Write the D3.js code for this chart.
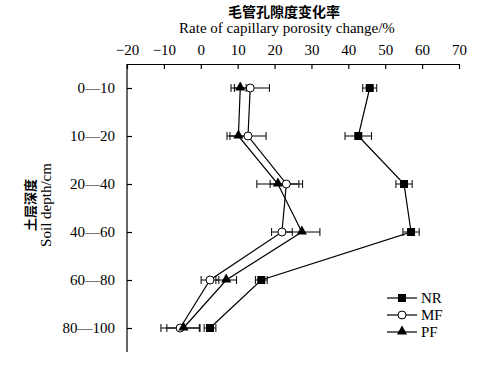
<!DOCTYPE html>
<html>
<head>
<meta charset="utf-8">
<script src="https://cdn.jsdelivr.net/npm/d3@7"></script>
<style>
  body { margin: 0; background: #fff; }
  svg { display: block; }
  text { font-family: "Liberation Serif", "Times New Roman", "DejaVu Serif", serif; fill: #000; }
  .cn { font-family: "Noto Sans CJK SC", sans-serif; }
</style>
</head>
<body>
<svg width="486" height="368"></svg>
<script>
// depth layers (cm)
var depths = ["0\u201410", "10\u201420", "20\u201440", "40\u201460", "60\u201480", "80\u2014100"];
var xTicks = [-20, -10, 0, 10, 20, 30, 40, 50, 60, 70];

// rate of capillary porosity change (%) and error
var nrValues = [45.8, 42.7, 55.1, 57.0, 16.4, 2.5];
var nrErrors = [1.9, 3.6, 2.2, 2.2, 1.6, 1.6];
var mfValues = [13.4, 12.8, 23.2, 22.0, 2.5, -5.6];
var mfErrors = [5.2, 4.9, 4.4, 2.8, 2.4, 5.2];
var pfValues = [10.7, 10.2, 20.9, 27.4, 6.9, -4.7];
var pfErrors = [1.6, 3.1, 5.7, 4.9, 2.8, 4.5];

var seriesNames = ["NR", "MF", "PF"];

function main() {
    var svg = d3.select("svg");
    var left = 127, right = 459, top = 64, bottom = 352;
    var serif = "'Liberation Serif', 'Times New Roman', serif";

    var x = d3.scaleLinear().domain([-20, 70]).range([left, right]);
    var y = d3.scalePoint().domain(depths).range([top, bottom]).padding(0.5);

    // titles
    svg.append("text").attr("class", "cn")
        .attr("x", (left + right) / 2 - 9).attr("y", 17)
        .attr("text-anchor", "middle").attr("font-size", "14px")
        .attr("font-weight", "bold")
        .text("毛管孔隙度变化率");
    svg.append("text")
        .attr("x", (left + right) / 2 - 6).attr("y", 33)
        .attr("text-anchor", "middle").attr("font-size", "15px")
        .style("font-family", serif)
        .text("Rate of capillary porosity change/%");

    var yc = 205;
    svg.append("text").attr("class", "cn")
        .attr("transform", "translate(35," + yc + ") rotate(-90)")
        .attr("text-anchor", "middle").attr("font-size", "13px")
        .attr("font-weight", "bold")
        .text("土层深度");
    svg.append("text")
        .attr("transform", "translate(51," + yc + ") rotate(-90)")
        .attr("text-anchor", "middle").attr("font-size", "15px")
        .style("font-family", serif)
        .text("Soil depth/cm");

    // top axis
    var gx = svg.append("g").attr("transform", "translate(0," + top + ")")
        .call(d3.axisTop(x).tickValues(xTicks).tickSizeInner(-5).tickSizeOuter(0)
            .tickFormat(function (d) { return d < 0 ? "\u2212" + Math.abs(d) : d; }));
    gx.attr("font-family", null);
    gx.select(".domain").attr("stroke-width", 1.2);
    gx.selectAll("line").attr("stroke-width", 1.2);
    gx.selectAll("text").attr("y", -9).attr("font-size", "15px")
        .style("font-family", serif);

    // left axis
    var gy = svg.append("g").attr("transform", "translate(" + left + ",0)")
        .call(d3.axisLeft(y).tickSizeInner(-5).tickSizeOuter(0));
    gy.attr("font-family", null);
    gy.select(".domain").attr("stroke-width", 1.2)
        .attr("d", "M0," + top + "V" + bottom);
    gy.selectAll("line").attr("stroke-width", 1.2);
    gy.selectAll("text").attr("x", -12).attr("font-size", "15px")
        .style("font-family", serif);

    var series = [
        { name: "NR", values: nrValues, errors: nrErrors },
        { name: "MF", values: mfValues, errors: mfErrors },
        { name: "PF", values: pfValues, errors: pfErrors }
    ];

    var line = d3.line()
        .x(function (d) { return x(d.v); })
        .y(function (d) { return y(d.depth); });

    function rows(s) {
        return depths.map(function (dep, i) {
            return { depth: dep, v: s.values[i], e: s.errors[i] };
        });
    }

    // lines
    series.forEach(function (s) {
        svg.append("path").datum(rows(s))
            .attr("fill", "none").attr("stroke", "#000").attr("stroke-width", 1.2)
            .attr("d", line);
    });

    // error bars
    series.forEach(function (s) {
        var g = svg.append("g").attr("stroke", "#000").attr("stroke-width", 1);
        var r = rows(s);
        g.selectAll(".eb").data(r).enter().append("line")
            .attr("x1", function (d) { return x(d.v - d.e); })
            .attr("x2", function (d) { return x(d.v + d.e); })
            .attr("y1", function (d) { return y(d.depth); })
            .attr("y2", function (d) { return y(d.depth); });
        [-1, 1].forEach(function (sgn) {
            g.selectAll(".cap" + sgn).data(r).enter().append("line")
                .attr("x1", function (d) { return x(d.v + sgn * d.e); })
                .attr("x2", function (d) { return x(d.v + sgn * d.e); })
                .attr("y1", function (d) { return y(d.depth) - 4; })
                .attr("y2", function (d) { return y(d.depth) + 4; });
        });
    });

    function marker(sel, name) {
        if (name === "NR") {
            sel.append("rect").attr("x", -4).attr("y", -4).attr("width", 8).attr("height", 8)
                .attr("fill", "#000");
        } else if (name === "MF") {
            sel.append("circle").attr("r", 4).attr("fill", "#fff")
                .attr("stroke", "#000").attr("stroke-width", 1);
        } else {
            sel.append("path").attr("d", d3.symbol().type(d3.symbolTriangle).size(45))
                .attr("transform", "translate(0,-0.5)")
                .attr("fill", "#000");
        }
    }

    // markers (NR, then MF, PF on top)
    series.forEach(function (s) {
        svg.selectAll(".m" + s.name).data(rows(s)).enter().append("g")
            .attr("transform", function (d) { return "translate(" + x(d.v) + "," + y(d.depth) + ")"; })
            .each(function () { marker(d3.select(this), s.name); });
    });

    // legend
    var legY = d3.scalePoint().domain(seriesNames).range([298, 332]);
    var leg = svg.append("g");
    seriesNames.forEach(function (n) {
        var yy = legY(n);
        leg.append("line").attr("x1", 387).attr("x2", 417).attr("y1", yy).attr("y2", yy)
            .attr("stroke", "#000").attr("stroke-width", 1.2);
        marker(leg.append("g").attr("transform", "translate(402," + yy + ")"), n);
        leg.append("text").attr("x", 421).attr("y", yy).attr("dy", "0.35em")
            .attr("font-size", "15px").style("font-family", serif).text(n);
    });
}
main();
</script>
</body>
</html>
